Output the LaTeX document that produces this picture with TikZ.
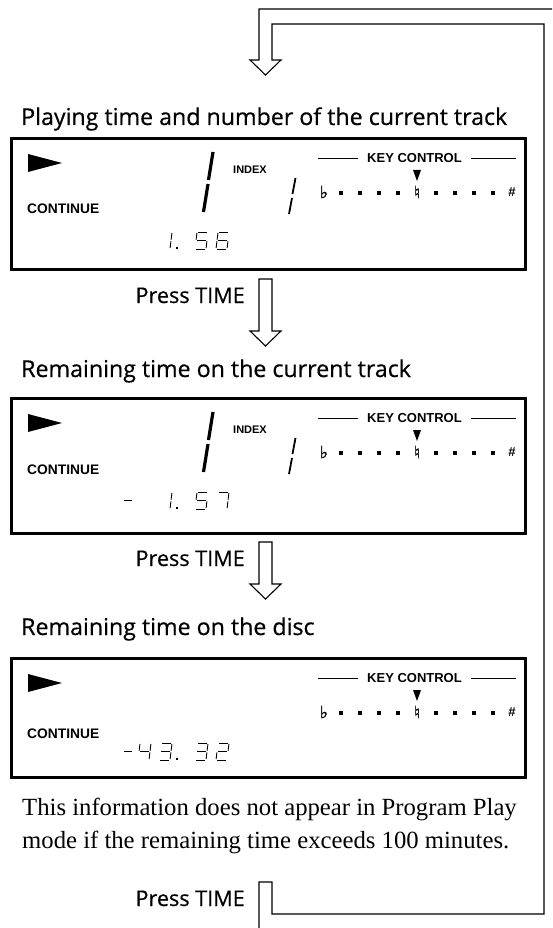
\documentclass[tikz,border=0pt]{standalone}
\usepackage{fontspec}
\setmainfont{Liberation Serif}
\newfontfamily\headfont{Open Sans}[FakeBold=0.5]
\newfontfamily\lcdfont{Liberation Sans}
\newfontfamily\symfont{DejaVu Sans}[FakeBold=0.8]
\usetikzlibrary{positioning}

% one seven-segment digit: x, baseline y, lit segments
\newcommand{\lcddigit}[3]{%
  \begin{scope}[shift={(#1,#2)}, xslant=0.12]
    \coordinate (a1) at (1.3,-17);  \coordinate (a2) at (9.7,-17);
    \coordinate (b1) at (11,-16);   \coordinate (b2) at (11,-9.3);
    \coordinate (c1) at (11,-7.7);  \coordinate (c2) at (11,-1);
    \coordinate (d1) at (1.3,0);    \coordinate (d2) at (9.7,0);
    \coordinate (e1) at (0,-1);     \coordinate (e2) at (0,-7.7);
    \coordinate (f1) at (0,-9.3);   \coordinate (f2) at (0,-16);
    \coordinate (g1) at (1.3,-8.5); \coordinate (g2) at (9.7,-8.5);
    \foreach \s in {#3} \draw[seg] (\s1) -- (\s2);
  \end{scope}}

% hollow down arrow: top of shaft, base of head
\newcommand{\hollowarrow}[2]{%
  \draw[loopline] (259,#1) -- (272,#1) -- (272,#2) -- (281,#2) -- (265.5,#2+15)
    -- (250,#2) -- (259,#2) -- cycle;}

\begin{document}
\begin{tikzpicture}[
  x=1pt, y=-1pt,
  lcdbox/.style={draw, line width=2.6pt, inner sep=0pt, anchor=north west,
    minimum width=514pt},
  headtxt/.style={font=\headfont\fontsize{23.2}{26}\selectfont, inner sep=0pt},
  presstxt/.style={font=\headfont\fontsize{21.6}{24}\selectfont, inner sep=0pt},
  notetxt/.style={font=\fontsize{24.7}{28}\selectfont, inner sep=0pt, anchor=base west},
  lbl/.style={font=\lcdfont\bfseries\fontsize{13}{13}\selectfont, inner sep=0pt},
  small/.style={font=\lcdfont\bfseries\fontsize{11}{11}\selectfont, inner sep=0pt},
  sym/.style={font=\symfont\fontsize{17}{17}\selectfont, inner sep=0pt},
  loopline/.style={line width=1.1pt, line join=miter},
  seg/.style={line width=0.9pt},
  bigseg/.style={line width=3.2pt},
  idxseg/.style={line width=1.8pt},
]
  \useasboundingbox (0,0) rectangle (552,928);
  \clip (0,0) rectangle (552,928);

  % the return loop, with its head at the top
  \draw[loopline] (259,930) -- (259,882) -- (272,882) -- (272,914) -- (544,914)
    -- (544,24) -- (272,24) -- (272,60) -- (281,60) -- (265.5,75) -- (250,60)
    -- (259,60) -- (259,9) -- (560,9) -- (560,930) -- cycle;

  % titles
  \node[headtxt, anchor=base west] (title1) at (21,125) {Playing time and number of the current track};
  \node[headtxt, anchor=base west] (title2) at (21,377) {Remaining time on the current track};
  \node[headtxt, anchor=base west] (title3) at (21,635) {Remaining time on the disc};

  % press TIME steps
  \node[presstxt, anchor=base east] (press1) at (245,303) {Press TIME};
  \node[presstxt, anchor=base east] (press2) at (245,566) {Press TIME};
  \node[presstxt, anchor=base east] (press3) at (245,906) {Press TIME};
  \hollowarrow{279}{331}
  \hollowarrow{542}{584}

  % the three displays
  \foreach \n/\t/\b/\c in {1/137/268/72, 2/397/532/73, 3/657/776/77} {
    \node[lcdbox, minimum height={\b-\t}] (disp\n) at (10,\t) {};
    \fill (28,\t+17) -- (62,\t+26) -- (28,\t+35) -- cycle;
    \node[lbl, inner xsep=9pt] (key\n) at (414.5,\t+21) {KEY CONTROL};
    \draw[line width=0.9pt] (318,\t+21) -- (key\n.west);
    \draw[line width=0.9pt] (key\n.east) -- (516,\t+21);
    \fill (413,\t+33) -- (421,\t+33) -- (417,\t+44) -- cycle;
    \node[sym] (flat\n) at (324,\t+55) {♭};
    \node[sym] (nat\n) at (417,\t+55) {♮};
    \node[lbl] (sharp\n) at (512,\t+55) {\#};
    \foreach \k in {341,360,379,398,436,455,474,493}
      \fill (\k-1.8,\t+54) rectangle ++(3.6,3.6);
    \node[lbl, font=\lcdfont\bfseries\fontsize{13.8}{14}\selectfont, anchor=west]
      (cont\n) at (27,\t+\c) {CONTINUE};
  }

  % track and index numbers
  \foreach \n/\t in {1/137, 2/397} {
    \node[small] (index\n) at (250,\t+33) {INDEX};
    \draw[bigseg] (213,\t+15) -- (208.5,\t+43);
    \draw[bigseg] (208,\t+47) -- (203.5,\t+75);
    \draw[idxseg] (295.5,\t+41) -- (292.5,\t+57);
    \draw[idxseg] (292,\t+61) -- (289,\t+77);
  }

  % playing time 1.56
  \lcddigit{159}{249}{b,c}
  \fill (176,247) rectangle ++(2,2);
  \lcddigit{195}{249}{a,f,g,c,d}
  \lcddigit{216}{249}{a,f,g,e,c,d}

  % remaining track time - 1.57
  \draw[seg] (124,500.5) -- (132,500.5);
  \lcddigit{159}{509}{b,c}
  \fill (176,507) rectangle ++(2,2);
  \lcddigit{195}{509}{a,f,g,c,d}
  \lcddigit{216}{509}{a,b,c}

  % remaining disc time -43.32
  \draw[seg] (124,751.5) -- (132,751.5);
  \lcddigit{138}{760}{f,g,b,c}
  \lcddigit{159}{760}{a,b,g,c,d}
  \fill (176,758) rectangle ++(2,2);
  \lcddigit{195}{760}{a,b,g,c,d}
  \lcddigit{216}{760}{a,b,g,e,d}

  % note under the last display
  \node[notetxt] (note1) at (22,815) {This information does not appear in Program Play};
  \node[notetxt] (note2) at (22,848) {mode if the remaining time exceeds 100 minutes.};
\end{tikzpicture}
\end{document}
